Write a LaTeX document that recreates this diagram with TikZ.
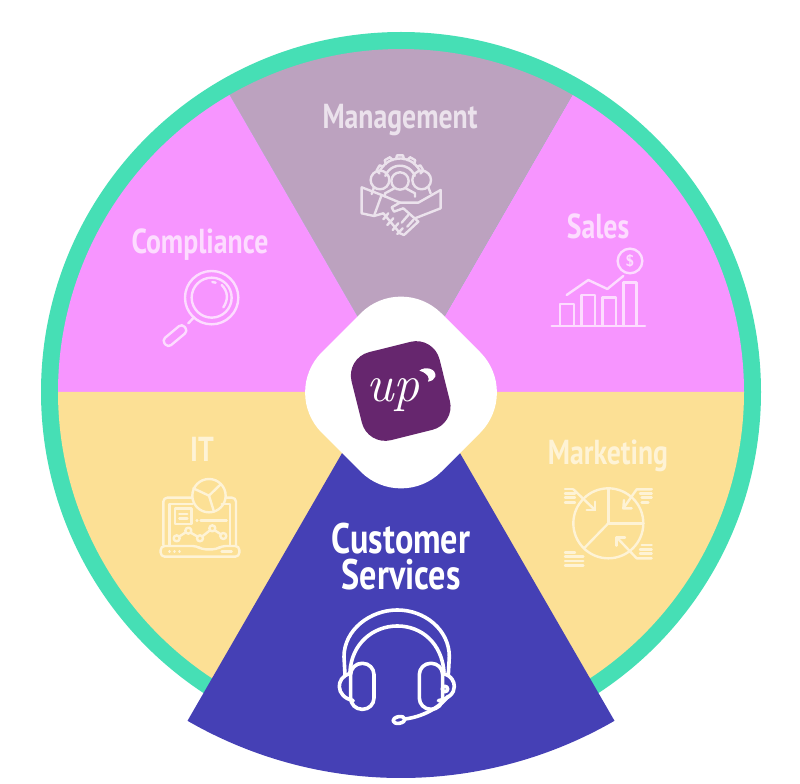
\documentclass[tikz,border=0pt]{standalone}
\usepackage{fontspec}
\newfontfamily\labelfont[FakeStretch=0.8]{PT Sans}
\definecolor{ringteal}{HTML}{46DFB5}
\definecolor{sectorpink}{HTML}{F795FF}
\definecolor{sectormauve}{HTML}{BCA2BF}
\definecolor{sectoryellow}{HTML}{FCE095}
\definecolor{sectorblue}{HTML}{4540B5}
\definecolor{logopurple}{HTML}{66266E}
\definecolor{palepink}{HTML}{FDDCFF}
\definecolor{palemauve}{HTML}{EBE2EC}
\definecolor{paleyellow}{HTML}{FEF3D6}
\tikzset{every picture/.style={line width=0.75pt}}
\tikzset{
  sectorlabel/.style={anchor=base,inner sep=0pt,font=\labelfont\bfseries\fontsize{26}{26}\selectfont},
  bluelabel/.style={anchor=base,inner sep=0pt,text=white,font=\labelfont\bfseries\fontsize{32}{32}\selectfont},
  iconline/.style={line width=1.8pt,line cap=round,line join=round},
  iconheavy/.style={line width=2.7pt,line cap=round,line join=round,draw=white}
}

\begin{document}
\begin{tikzpicture}[x=0.75pt,y=0.75pt,yscale=-1,xscale=1]
\useasboundingbox (0,0) rectangle (800,784);

%Shape: Circle
\fill [ringteal] (401,392) circle [radius=360];
%Shape: Sectors
\foreach \ang/\col in {-60/sectorpink,-120/sectormauve,-180/sectorpink,120/sectoryellow,0/sectoryellow}
  \fill [\col] (401,392) -- +(\ang:343) arc [start angle=\ang,delta angle=60,radius=343] -- cycle;
%Shape: Blue sector
\fill [sectorblue] (401,351) -- +(120:427) arc [start angle=120,end angle=60,radius=427] -- cycle;

%Shape: Hub
\node (hub) at (401,392.5) [fill=white,rotate=45,minimum size=126.75pt,inner sep=0pt,rounded corners=42.75pt] {};
\node (logo) at (400.7,391) [fill=logopurple,rotate=14,minimum size=68pt,inner sep=0pt,rounded corners=18pt] {};
\node (logotext) at (393,401.7) [anchor=base,inner sep=0pt,text=white,font=\fontsize{39}{39}\selectfont\itshape] {up};
\begin{scope}[shift={(290,280)},scale=0.3333]
\fill [white] (388,272) .. controls (405,258) and (440,265) .. (436,290) .. controls (434,298) and (425,303) .. (414,305) .. controls (420,295) and (415,280) .. cycle;
\end{scope}

% Text Node
\draw (400,128.5) node (management) [sectorlabel,text=palemauve] {Management};
% Text Node
\draw (598,238.5) node (sales) [sectorlabel,text=palepink] {Sales};
% Text Node
\draw (200,253.5) node (compliance) [sectorlabel,text=palepink] {Compliance};
% Text Node
\draw (202,461.5) node (it) [sectorlabel,text=paleyellow] {IT};
% Text Node
\draw (608,464.5) node (marketing) [sectorlabel,text=paleyellow] {Marketing};
% Text Node
\draw (401,553) node (customer) [bluelabel] {Customer};
% Text Node
\draw (401,589) node (services) [bluelabel] {Services};

%Icon: Management
\begin{scope}[shift={(300,80)},scale=0.3333,iconline,draw=palemauve]
\draw (240,272) arc [start angle=-153,end angle=-27,radius=67];
\foreach \ang in {-150,-120,-90,-60,-30}
  \draw [rotate around={\ang:(300,302)}] (364,290) -- (376,293) -- (376,311) -- (364,314);
\draw (256,288) arc [start angle=-160,end angle=-20,radius=47];
\draw (300,303) circle [radius=26];
\draw (240,300) circle [radius=28];
\draw (365,300) circle [radius=28];
\draw (283,325) -- (255,340) -- (255,350);
\draw (317,325) -- (345,340) -- (345,350);
\draw (222,322) -- (215,342);
\draw (385,322) -- (392,340);
\draw (185,322) -- (185,400) -- (222,408) -- (245,345) -- cycle;
\draw (245,345) -- (300,368);
\draw (422,330) -- (422,385) -- (345,415);
\draw (422,330) -- (355,368) -- (300,368) -- (275,382) -- (282,395) -- (310,385) -- (355,425) -- (312,465) -- (300,460);
\draw (222,408) -- (250,400) -- (300,460);
\draw (265,400) -- (250,418);
\draw (280,415) -- (262,435);
\draw (295,430) -- (278,450);
\draw (308,445) -- (292,462);
\draw (325,405) -- (305,428);
\draw (340,420) -- (322,440);
\end{scope}

%Icon: Sales
\begin{scope}[shift={(530,200)},scale=0.3333,iconline,draw=palepink]
\draw (65,378) -- (345,378);
\draw (90,378) -- (90,312) -- (132,312) -- (132,378);
\draw (155,378) -- (155,285) -- (195,285) -- (195,378);
\draw (217,378) -- (217,293) -- (258,293) -- (258,378);
\draw (280,378) -- (280,248) -- (320,248) -- (320,378);
\draw (110,285) -- (175,240) -- (232,267) -- (280,228);
\draw (300,183) circle [radius=37];
\node (dollar) at (300,183) [inner sep=0pt,text=palepink,font=\sffamily\bfseries\fontsize{12}{12}\selectfont] {\$};
\end{scope}

%Icon: Compliance
\begin{scope}[shift={(120,220)},scale=0.3333,iconline,draw=palepink]
\draw (275,233) circle [radius=80];
\draw (275,233) circle [radius=60];
\draw (277,186) -- (287,188);
\draw (305,195) .. controls (325,215) and (325,240) .. (310,262);
\draw (222,292) -- (205,310);
\draw [rounded corners=3pt] (186,311) -- (204,333) -- (144,383) -- (126,361) -- cycle;
\end{scope}

%Icon: IT
\begin{scope}[shift={(140,430)},scale=0.3333,iconline,draw=paleyellow]
\draw [rounded corners=3pt] (70,345) -- (70,203) -- (155,203);
\draw [rounded corners=3pt] (258,203) -- (288,203) -- (288,345);
\draw (88,345) -- (88,222) -- (158,222);
\draw (245,222) -- (270,222) -- (270,345);
\draw [rounded corners=3pt] (62,348) -- (170,348) -- (185,358) -- (230,358) -- (245,348) -- (298,348) -- (298,380) -- (62,380) -- cycle;
\draw (207,197) circle [radius=50];
\draw (160,175) -- (207,197) -- (240,165);
\draw (207,197) -- (222,245);
\draw (105,235) rectangle (155,282);
\draw (118,252) -- (142,252);
\draw (118,265) -- (142,265);
\draw (170,271) -- (172,271);
\draw (182,271) -- (260,271);
\foreach \px/\py in {110/325,145/302,180/325,217/295,250/318}
  \draw (\px,\py) circle [radius=9];
\draw (117,320) -- (137,307);
\draw (152,308) -- (173,320);
\draw (187,319) -- (210,301);
\draw (224,301) -- (243,313);
\draw (88,365) -- (89,365);
\draw (103,365) -- (104,365);
\draw (118,365) -- (119,365);
\draw (245,365) -- (275,365);
\end{scope}

%Icon: Marketing
\begin{scope}[shift={(540,430)},scale=0.3333,iconline,draw=paleyellow]
\draw (205,280) circle [radius=105];
\draw (205,175) -- (205,280) -- (310,280);
\draw (205,280) -- (135,352);
\draw (100,178) -- (165,240);
\draw (165,215) -- (165,240) -- (140,240);
\draw (335,178) -- (290,178) -- (250,235);
\draw (252,210) -- (250,235) -- (275,235);
\draw (335,385) -- (290,385) -- (230,322);
\draw (230,347) -- (230,322) -- (255,322);
\foreach \ly/\lx in {177/98,190/105,203/105,217/105}
  \draw (75,\ly) -- (\lx,\ly);
\foreach \ly/\lx in {177/310,190/300,203/305}
  \draw (\lx,\ly) -- (335,\ly);
\draw (305,217) -- (325,217);
\foreach \ly/\lx in {345/305,358/300,371/300}
  \draw (\lx,\ly) -- (335,\ly);
\draw (75,367) -- (105,367);
\foreach \ly in {380,393,407}
  \draw (75,\ly) -- (130,\ly);
\end{scope}

%Icon: Headset
\begin{scope}[shift={(320,510)},scale=0.3333,iconheavy]
\draw (75,495) -- (72,440) .. controls (72,360) and (150,300) .. (232,300) .. controls (315,300) and (388,360) .. (388,440) -- (385,495);
\draw (90,485) .. controls (95,400) and (160,348) .. (232,348) .. controls (305,348) and (365,400) .. (372,485);
\draw [rounded corners=8.5pt] (92,460) rectangle (162,598);
\draw [rounded corners=8.5pt] (298,460) rectangle (368,598);
\draw (92,490) .. controls (65,497) and (58,515) .. (58,530) .. controls (58,550) and (75,567) .. (100,572);
\draw (368,490) .. controls (395,497) and (403,515) .. (403,530) .. controls (403,550) and (385,567) .. (355,572);
\draw (375,537) circle [radius=8];
\draw (385,558) .. controls (365,585) and (320,618) .. (256,627);
\draw [rotate around={-10:(237,630)}] (237,630) ellipse [x radius=18,y radius=10];
\end{scope}
\end{tikzpicture}
\end{document}
